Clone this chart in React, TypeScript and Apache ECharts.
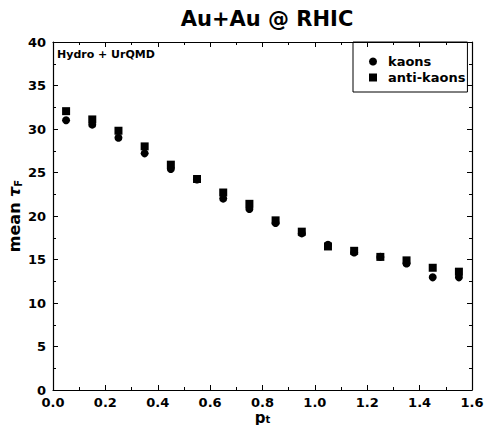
import React, { useEffect, useRef } from "react";
import * as echarts from "echarts";

const pt = [0.05, 0.15, 0.25, 0.35, 0.45, 0.55, 0.65, 0.75, 0.85, 0.95, 1.05, 1.15, 1.25, 1.35, 1.45, 1.55];
const kaons = [31.0, 30.5, 29.0, 27.2, 25.4, 24.2, 22.0, 20.8, 19.2, 18.0, 16.7, 15.8, 15.3, 14.55, 12.95, 12.95];
const antiKaons = [32.05, 31.1, 29.8, 28.0, 25.9, 24.25, 22.7, 21.4, 19.5, 18.2, 16.5, 16.0, 15.3, 14.9, 14.05, 13.6];

const font = "DejaVu Sans";

export default function App() {
  const ref = useRef<HTMLDivElement>(null);
  useEffect(() => {
    const chart = echarts.init(ref.current!, null, { renderer: "svg" });
    const axisCommon = {
      axisLine: { show: true, onZero: false, lineStyle: { color: "#000", width: 1.2 } },
      axisTick: { show: true, inside: true, length: 5, lineStyle: { color: "#000" } },
      minorTick: { show: true, splitNumber: 2, length: 3, lineStyle: { color: "#000" } },
      splitLine: { show: false },
    };
    chart.setOption({
      animation: false,
      backgroundColor: "#fff",
      title: {
        text: "Au+Au @ RHIC",
        left: 262,
        textAlign: "center",
        top: 3,
        textStyle: { fontFamily: font, fontWeight: "bold", fontSize: 21, color: "#000" },
      },
      grid: { left: 53, right: 12, top: 42, bottom: 35, show: false, outerBoundsMode: "none", containLabel: false },
      legend: {
        orient: "vertical",
        left: 353,
        top: 42,
        itemWidth: 8,
        itemHeight: 8,
        itemGap: 3,
        padding: [13, 2, 8, 16],
        borderColor: "#000",
        borderWidth: 1,
        borderRadius: 0,
        textStyle: { fontFamily: font, fontWeight: "bold", fontSize: 13, color: "#000", padding: [0, 0, 0, 6] },
        data: [
          { name: "kaons", icon: "circle" },
          { name: "anti-kaons", icon: "rect" },
        ],
      },
      graphic: [
        {
          type: "text",
          left: 57,
          top: 49,
          style: { text: "Hydro + UrQMD", fontFamily: font, fontWeight: "bold", fontSize: 11, fill: "#000" },
        },
      ],
      xAxis: [
        {
          type: "value",
          min: 0,
          max: 1.6,
          interval: 0.2,
          position: "bottom",
          ...axisCommon,
          axisLabel: {
            formatter: (v: number) => v.toFixed(1),
            fontFamily: font,
            fontWeight: "bold",
            fontSize: 13,
            lineHeight: 12,
            color: "#000",
            margin: 6,
          },
          name: "p{sub|t}",
          nameLocation: "middle",
          nameGap: 21,
          nameMoveOverlap: false,
          nameTextStyle: {
            fontFamily: font,
            fontWeight: "bold",
            fontSize: 15,
            lineHeight: 13,
            color: "#000",
            rich: {
              sub: { fontFamily: font, fontWeight: "bold", fontSize: 10, lineHeight: 13, verticalAlign: "bottom", color: "#000" },
            },
          },
        },
        {
          type: "value",
          min: 0,
          max: 1.6,
          interval: 0.2,
          position: "top",
          ...axisCommon,
          axisLabel: { show: false },
        },
      ],
      yAxis: [
        {
          type: "value",
          min: 0,
          max: 40,
          interval: 5,
          position: "left",
          ...axisCommon,
          axisLabel: {
            fontFamily: font,
            fontWeight: "bold",
            fontSize: 13,
            color: "#000",
            margin: 7,
          },
          name: "mean {it|τ}{sub|F}",
          nameLocation: "middle",
          nameGap: 30,
          nameMoveOverlap: false,
          nameTextStyle: {
            fontFamily: font,
            fontWeight: "bold",
            fontSize: 16,
            color: "#000",
            rich: {
              it: { fontFamily: font, fontStyle: "italic", fontSize: 16, color: "#000" },
              sub: { fontFamily: font, fontSize: 10, padding: [8, 0, 0, 0], color: "#000" },
            },
          },
        },
        {
          type: "value",
          min: 0,
          max: 40,
          interval: 5,
          position: "right",
          ...axisCommon,
          axisLabel: { show: false },
        },
      ],
      series: [
        {
          name: "kaons",
          type: "scatter",
          symbol: "circle",
          symbolSize: 8,
          itemStyle: { color: "#000", opacity: 1 },
          data: pt.map((x, i) => [x, kaons[i]]),
          z: 2,
        },
        {
          name: "anti-kaons",
          type: "scatter",
          symbol: "rect",
          symbolSize: 8,
          itemStyle: { color: "#000", opacity: 1 },
          data: pt.map((x, i) => [x, antiKaons[i]]),
          z: 3,
        },
      ],
    });
    return () => chart.dispose();
  }, []);
  return (
    <div
      ref={ref}
      style={{ position: "fixed", left: 0, top: 0, width: 484, height: 425 }}
    />
  );
}
